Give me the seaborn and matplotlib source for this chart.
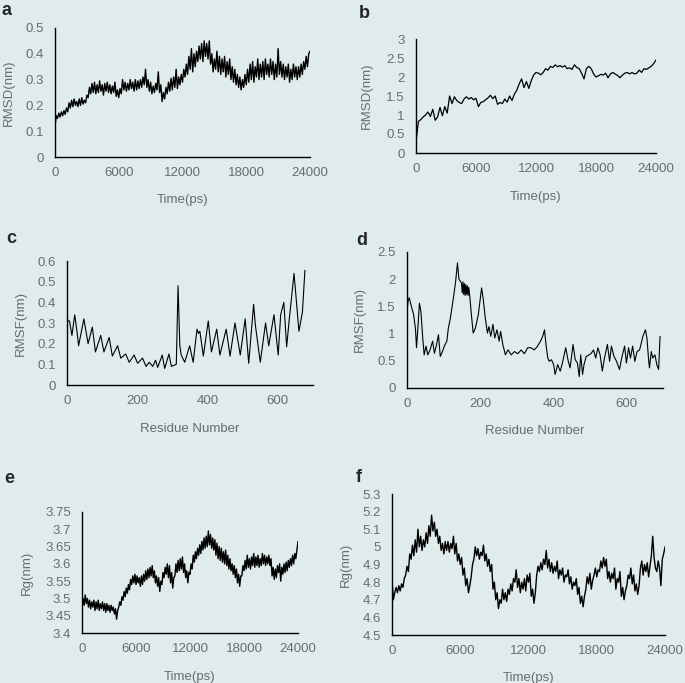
import numpy as np
import seaborn as sns
import matplotlib.pyplot as plt

# time axes of the MD runs (ps)
time_fine = np.arange(0, 24001, 120)
time_b = np.arange(0, 24001, 240)

# a: backbone RMSD, system 1 (nm), every 120 ps
rmsd_a = [0.12, 0.16, 0.15, 0.17, 0.155, 0.175, 0.16, 0.18, 0.165, 0.19,
          0.175, 0.21, 0.19, 0.22, 0.195, 0.225, 0.20, 0.215, 0.195, 0.225,
          0.20, 0.23, 0.205, 0.22, 0.21, 0.24, 0.23, 0.27, 0.245, 0.285,
          0.25, 0.29, 0.245, 0.28, 0.25, 0.295, 0.255, 0.28, 0.24, 0.285,
          0.255, 0.29, 0.25, 0.28, 0.245, 0.275, 0.25, 0.29, 0.235, 0.26,
          0.23, 0.265, 0.245, 0.30, 0.26, 0.29, 0.255, 0.285, 0.26, 0.30,
          0.265, 0.29, 0.255, 0.30, 0.26, 0.295, 0.265, 0.30, 0.27, 0.31,
          0.28, 0.34, 0.27, 0.30, 0.255, 0.29, 0.245, 0.275, 0.25, 0.285,
          0.26, 0.33, 0.25, 0.28, 0.215, 0.25, 0.225, 0.27, 0.245, 0.29,
          0.255, 0.305, 0.26, 0.31, 0.27, 0.34, 0.265, 0.31, 0.28, 0.32,
          0.29, 0.34, 0.31, 0.36, 0.32, 0.39, 0.34, 0.42, 0.33, 0.40,
          0.35, 0.41, 0.37, 0.43, 0.38, 0.44, 0.37, 0.45, 0.39, 0.44,
          0.38, 0.45, 0.36, 0.40, 0.33, 0.38, 0.34, 0.41, 0.33, 0.39,
          0.32, 0.38, 0.33, 0.39, 0.31, 0.37, 0.32, 0.38, 0.30, 0.35,
          0.29, 0.34, 0.28, 0.32, 0.27, 0.31, 0.26, 0.30, 0.27, 0.32,
          0.28, 0.34, 0.29, 0.36, 0.30, 0.37, 0.29, 0.35, 0.31, 0.38,
          0.30, 0.36, 0.31, 0.37, 0.30, 0.38, 0.32, 0.36, 0.31, 0.38,
          0.32, 0.37, 0.30, 0.36, 0.31, 0.42, 0.32, 0.37, 0.31, 0.36,
          0.30, 0.35, 0.31, 0.36, 0.29, 0.34, 0.30, 0.36, 0.31, 0.35,
          0.30, 0.35, 0.31, 0.36, 0.32, 0.37, 0.34, 0.39, 0.35, 0.40,
          0.41]

# b: RMSD, system 2 (nm), every 240 ps
rmsd_b = [0.30, 0.83, 0.88, 0.95, 1.00, 1.08, 0.96, 1.15, 0.86, 0.95,
          1.20, 0.98, 1.22, 1.05, 1.50, 1.30, 1.48, 1.38, 1.33, 1.30,
          1.42, 1.48, 1.42, 1.46, 1.40, 1.44, 1.22, 1.33, 1.35, 1.40,
          1.45, 1.52, 1.43, 1.50, 1.28, 1.33, 1.30, 1.42, 1.34, 1.50,
          1.38, 1.55, 1.65, 1.82, 1.95, 1.72, 1.88, 1.70, 1.90, 2.05,
          2.12, 2.10, 2.06, 2.12, 2.22, 2.18, 2.28, 2.25, 2.32, 2.27,
          2.30, 2.26, 2.30, 2.22, 2.24, 2.20, 2.32, 2.25, 2.22, 2.10,
          1.95, 2.22, 2.28, 2.22, 2.08, 2.00, 2.03, 2.07, 2.05, 2.10,
          1.98, 2.08, 2.12, 2.08, 2.04, 1.98, 2.05, 2.10, 2.12, 2.08,
          2.12, 2.08, 2.10, 2.18, 2.12, 2.22, 2.20, 2.24, 2.28, 2.35,
          2.45]

# c: RMSF per residue, system 1 (nm)
res_c = [0, 2, 7, 14, 22, 29, 33, 48, 55, 60,
         72, 81, 96, 105, 120, 129, 144, 153, 167, 177,
         191, 201, 215, 225, 234, 244, 252, 258, 271, 278,
         290, 297, 311, 316, 321, 325, 335, 349, 359, 370,
         374, 378, 388, 402, 411, 426, 435, 453, 464, 478,
         493, 507, 517, 531, 536, 550, 565, 574, 589, 601,
         608, 617, 625, 632, 646, 660, 670, 677]
rmsf_c = [0.355, 0.31, 0.31, 0.24, 0.34, 0.25, 0.19, 0.32, 0.25, 0.20,
          0.28, 0.16, 0.24, 0.16, 0.23, 0.14, 0.19, 0.13, 0.15, 0.11,
          0.145, 0.105, 0.13, 0.09, 0.11, 0.09, 0.12, 0.085, 0.145, 0.08,
          0.15, 0.09, 0.10, 0.48, 0.19, 0.145, 0.11, 0.19, 0.11, 0.27,
          0.25, 0.26, 0.14, 0.31, 0.16, 0.27, 0.145, 0.27, 0.14, 0.30,
          0.145, 0.32, 0.105, 0.39, 0.29, 0.11, 0.30, 0.19, 0.34, 0.145,
          0.34, 0.40, 0.185, 0.31, 0.54, 0.26, 0.355, 0.555]

# d: RMSF per residue, system 2 (nm)
res_d = [0, 3, 6, 12, 18, 23, 26, 30, 34, 38,
         43, 47, 52, 57, 63, 70, 75, 81, 86, 91,
         97, 102, 109, 113, 118, 127, 133, 138, 142, 149,
         151, 153, 155, 157, 159, 161, 163, 165, 167, 169,
         172, 176, 181, 187, 195, 204, 208, 214, 220, 224,
         229, 235, 240, 246, 252, 256, 262, 269, 276, 285,
         294, 303, 312, 321, 330, 339, 348, 357, 365, 371,
         376, 380, 385, 389, 395, 401, 405, 412, 419, 425,
         434, 441, 446, 454, 460, 466, 471, 475, 480, 484,
         490, 498, 504, 510, 516, 522, 528, 534, 540, 548,
         554, 559, 566, 573, 581, 587, 595, 600, 606, 611,
         617, 623, 629, 636, 645, 652, 656, 661, 663, 668,
         672, 678, 683, 688, 692]
rmsf_d = [1.41, 1.60, 1.66, 1.50, 1.35, 1.10, 0.74, 1.13, 1.56, 1.41,
          0.92, 0.61, 0.77, 0.61, 0.70, 0.86, 0.64, 0.80, 0.98, 0.58,
          0.67, 0.77, 0.86, 1.10, 1.26, 1.66, 1.96, 2.30, 2.00, 1.93,
          1.75, 1.95, 1.72, 1.92, 1.70, 1.90, 1.72, 1.88, 1.70, 1.85,
          1.66, 1.35, 1.01, 1.10, 1.35, 1.84, 1.66, 1.29, 1.01, 1.13,
          0.95, 1.17, 0.92, 1.07, 0.86, 1.04, 0.80, 0.61, 0.70, 0.61,
          0.67, 0.63, 0.70, 0.63, 0.74, 0.74, 0.70, 0.77, 0.86, 0.95,
          1.07, 0.80, 0.55, 0.49, 0.52, 0.43, 0.25, 0.43, 0.31, 0.46,
          0.74, 0.49, 0.37, 0.80, 0.52, 0.46, 0.21, 0.61, 0.25, 0.43,
          0.58, 0.61, 0.64, 0.70, 0.55, 0.74, 0.61, 0.31, 0.55, 0.80,
          0.49, 0.77, 0.58, 0.49, 0.34, 0.55, 0.77, 0.46, 0.74, 0.55,
          0.77, 0.49, 0.67, 0.70, 0.95, 1.07, 0.92, 0.49, 0.37, 0.67,
          0.55, 0.61, 0.43, 0.34, 0.95]

# e: radius of gyration, system 1 (nm), every 120 ps
rg_e = [3.475, 3.50, 3.48, 3.51, 3.485, 3.50, 3.475, 3.495, 3.47, 3.49,
        3.475, 3.495, 3.465, 3.49, 3.47, 3.495, 3.465, 3.485, 3.47, 3.49,
        3.465, 3.485, 3.46, 3.485, 3.465, 3.48, 3.46, 3.48, 3.465, 3.475,
        3.455, 3.47, 3.44, 3.465, 3.475, 3.49, 3.48, 3.505, 3.495, 3.52,
        3.505, 3.53, 3.515, 3.54, 3.525, 3.555, 3.54, 3.565, 3.545, 3.57,
        3.54, 3.565, 3.545, 3.56, 3.535, 3.565, 3.54, 3.57, 3.55, 3.58,
        3.555, 3.585, 3.56, 3.59, 3.565, 3.595, 3.56, 3.58, 3.545, 3.565,
        3.535, 3.56, 3.52, 3.55, 3.54, 3.575, 3.56, 3.59, 3.57, 3.60,
        3.56, 3.595, 3.545, 3.575, 3.53, 3.56, 3.565, 3.60, 3.575, 3.61,
        3.58, 3.615, 3.585, 3.62, 3.575, 3.60, 3.56, 3.58, 3.545, 3.575,
        3.57, 3.60, 3.585, 3.625, 3.605, 3.635, 3.615, 3.645, 3.625, 3.655,
        3.63, 3.665, 3.64, 3.675, 3.645, 3.68, 3.65, 3.695, 3.655, 3.685,
        3.645, 3.675, 3.64, 3.67, 3.625, 3.66, 3.615, 3.65, 3.61, 3.645,
        3.605, 3.635, 3.60, 3.64, 3.595, 3.625, 3.585, 3.615, 3.58, 3.60,
        3.57, 3.595, 3.56, 3.585, 3.545, 3.57, 3.535, 3.565, 3.565, 3.595,
        3.58, 3.61, 3.585, 3.625, 3.59, 3.615, 3.585, 3.62, 3.595, 3.63,
        3.59, 3.62, 3.595, 3.625, 3.59, 3.615, 3.595, 3.63, 3.60, 3.625,
        3.595, 3.62, 3.60, 3.625, 3.595, 3.615, 3.565, 3.59, 3.555, 3.585,
        3.56, 3.595, 3.575, 3.60, 3.55, 3.59, 3.57, 3.60, 3.575, 3.605,
        3.58, 3.61, 3.59, 3.615, 3.595, 3.625, 3.60, 3.63, 3.615, 3.64,
        3.665]

# f: radius of gyration, system 2 (nm), every 120 ps
rg_f = [4.81, 4.70, 4.74, 4.77, 4.74, 4.78, 4.75, 4.79, 4.77, 4.82,
        4.84, 4.89, 4.86, 4.96, 4.93, 5.01, 4.95, 5.04, 4.97, 5.10,
        5.00, 5.06, 4.98, 5.04, 5.00, 5.08, 5.02, 5.12, 5.06, 5.18,
        5.09, 5.14, 5.06, 5.10, 5.02, 5.06, 4.98, 5.02, 4.96, 5.03,
        4.98, 5.03, 4.97, 5.02, 4.99, 5.06, 4.96, 5.02, 4.92, 4.96,
        4.90, 4.94, 4.84, 4.88, 4.78, 4.82, 4.74, 4.78, 4.83, 4.90,
        4.93, 5.00, 4.95, 4.99, 4.93, 4.97, 4.95, 5.01, 4.92, 4.96,
        4.89, 4.93, 4.86, 4.90, 4.76, 4.80, 4.70, 4.74, 4.65, 4.70,
        4.68, 4.76, 4.70, 4.74, 4.69, 4.76, 4.73, 4.79, 4.75, 4.82,
        4.80, 4.87, 4.77, 4.82, 4.74, 4.80, 4.76, 4.82, 4.75, 4.84,
        4.80, 4.85, 4.72, 4.76, 4.68, 4.74, 4.84, 4.89, 4.86, 4.91,
        4.87, 4.93, 4.90, 4.98, 4.88, 4.93, 4.86, 4.91, 4.85, 4.89,
        4.86, 4.92, 4.82, 4.87, 4.84, 4.88, 4.80, 4.84, 4.83, 4.87,
        4.79, 4.83, 4.76, 4.80, 4.78, 4.82, 4.73, 4.77, 4.68, 4.72,
        4.66, 4.72, 4.76, 4.83, 4.79, 4.85, 4.76, 4.81, 4.84, 4.88,
        4.83, 4.87, 4.86, 4.92, 4.88, 4.94, 4.89, 4.93, 4.82, 4.86,
        4.80, 4.85, 4.82, 4.88, 4.76, 4.82, 4.80, 4.86, 4.72, 4.77,
        4.70, 4.75, 4.78, 4.84, 4.82, 4.88, 4.79, 4.84, 4.75, 4.79,
        4.73, 4.78, 4.88, 4.92, 4.84, 4.90, 4.86, 4.91, 4.83, 4.89,
        4.95, 5.06, 4.94, 4.88, 4.86, 4.92, 4.88, 4.78, 4.93, 4.96,
        5.00]

time_ticks = [0, 6000, 12000, 18000, 24000]
res_ticks = [0, 200, 400, 600]
yticks_a = [0, 0.1, 0.2, 0.3, 0.4, 0.5]
yticks_b = [0, 0.5, 1, 1.5, 2, 2.5, 3]
yticks_c = [0, 0.1, 0.2, 0.3, 0.4, 0.5, 0.6]
yticks_d = [0, 0.5, 1, 1.5, 2, 2.5]
yticks_e = [3.4, 3.45, 3.5, 3.55, 3.6, 3.65, 3.7, 3.75]
yticks_f = [4.5, 4.6, 4.7, 4.8, 4.9, 5.0, 5.1, 5.2, 5.3]

sns.set_style("ticks")
plt.rcParams['font.family'] = ['Liberation Sans', 'DejaVu Sans']

BG = '#e0ecec'
GREY = '#6b6b6b'
W, H = 685, 683
fig = plt.figure(figsize=(6.85, 6.83), dpi=100, facecolor=BG)


def panel(box, x, y, xlim, xticks, yticks, xlabel, ylabel, letter, letter_pos,
          ylab_x, xlab_y, lw=0.8):
    l, t, r, b = box
    ax = fig.add_axes([l / W, 1 - b / H, (r - l) / W, (b - t) / H])
    ax.set_facecolor(BG)
    sns.lineplot(x=x, y=y, ax=ax, color='black', lw=lw,
                 estimator=None, sort=False)
    ax.set_xlim(*xlim)
    ax.set_ylim(yticks[0], yticks[-1])
    ax.set_xticks(xticks)
    ax.set_xticklabels([str(v) for v in xticks])
    ax.set_yticks(yticks)
    ax.set_yticklabels([f"{v:g}" for v in yticks])
    ax.tick_params(axis='both', length=0, labelsize=9.5, labelcolor=GREY)
    ax.tick_params(axis='x', pad=7)
    ax.tick_params(axis='y', pad=8)
    for s in ['top', 'right']:
        ax.spines[s].set_visible(False)
    for s in ['left', 'bottom']:
        ax.spines[s].set_color('black')
        ax.spines[s].set_linewidth(1.0)
    ax.set_xlabel(xlabel, fontsize=9.5, color=GREY)
    ax.set_ylabel(ylabel, fontsize=9.5, color=GREY)
    ax.yaxis.set_label_coords(ylab_x, 0.5)
    ax.xaxis.set_label_coords(0.5, xlab_y)
    fig.text(letter_pos[0] / W, 1 - letter_pos[1] / H, letter,
             fontsize=13, fontweight='bold', va='baseline', ha='left')
    return ax


panel((55, 28, 310, 157), time_fine, rmsd_a, (0, 24000), time_ticks,
      yticks_a, 'Time(ps)', 'RMSD(nm)', 'a', (2, 15), -0.157, -0.29, lw=1.0)
panel((416, 39, 656, 153), time_b, rmsd_b, (0, 24000), time_ticks,
      yticks_b, 'Time(ps)', 'RMSD(nm)', 'b', (359, 18), -0.18, -0.33, lw=0.9)
panel((67, 261, 313, 385), res_c, rmsf_c, (0, 700), res_ticks,
      yticks_c, 'Residue Number', 'RMSF(nm)', 'c', (6, 243), -0.163, -0.31)
panel((407, 252, 663, 388), res_d, rmsf_d, (0, 700), res_ticks,
      yticks_d, 'Residue Number', 'RMSF(nm)', 'd', (356, 245), -0.16, -0.27)
panel((82, 512, 298, 633), time_fine, rg_e, (0, 24000), time_ticks,
      yticks_e, 'Time(ps)', 'Rg(nm)', 'e', (4, 483), -0.227, -0.31, lw=1.0)
panel((392, 494, 665, 635), time_fine, rg_f, (0, 24000), time_ticks,
      yticks_f, 'Time(ps)', 'Rg(nm)', 'f', (356, 482), -0.147, -0.26, lw=1.0)

fig.savefig('out.png', dpi=100, facecolor=BG)
